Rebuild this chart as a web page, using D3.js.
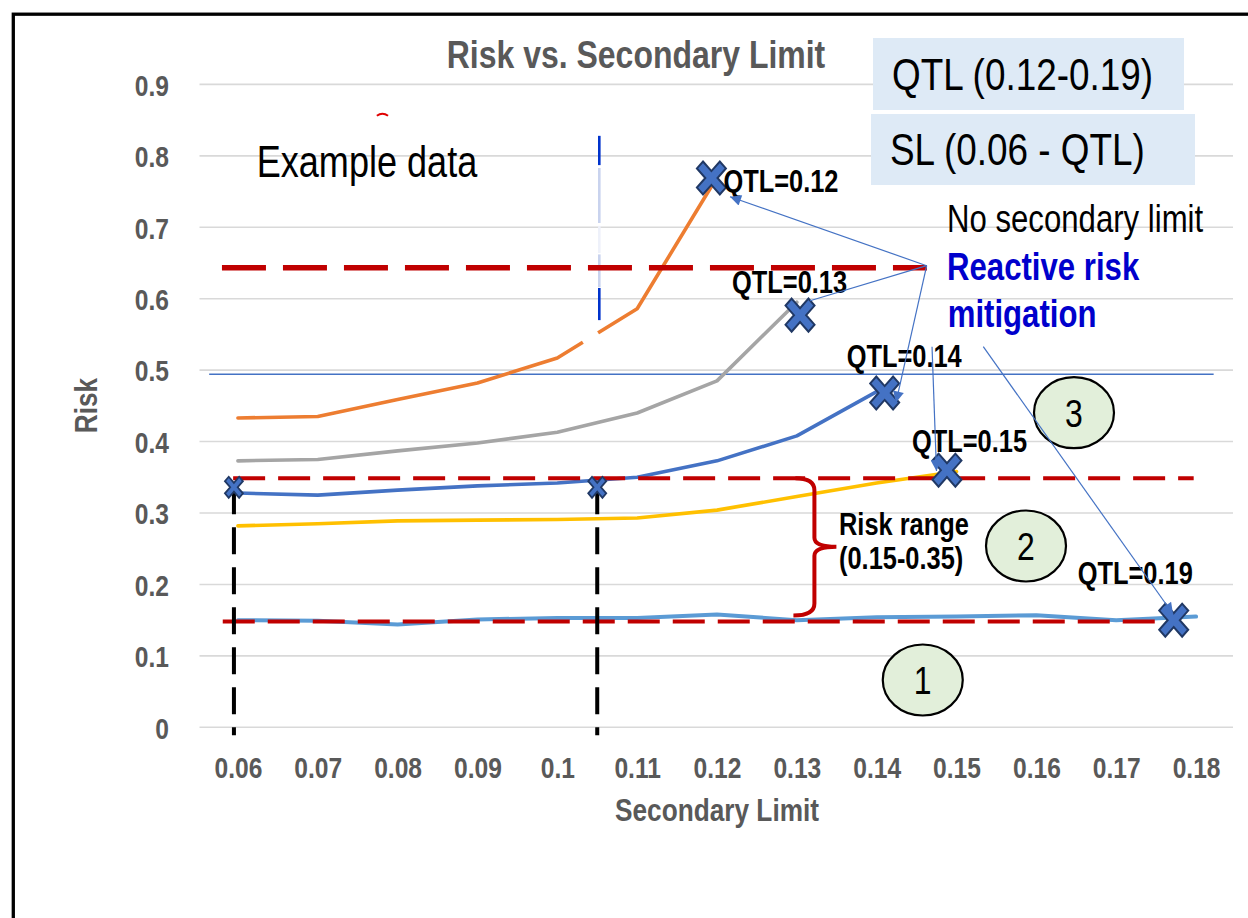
<!DOCTYPE html>
<html><head><meta charset="utf-8">
<script src="https://cdn.jsdelivr.net/npm/d3@7"></script>
<style>
html,body{margin:0;padding:0;background:#fff;}
svg{display:block;}
</style></head><body>
<svg id="chart" width="1248" height="918"></svg>
<script>
// ---------- data ----------
const categories = ["0.06","0.07","0.08","0.09","0.1","0.11","0.12","0.13","0.14","0.15","0.16","0.17","0.18"];
const seriesQTL012 = [0.433,0.435,0.459,0.482,0.517,0.586,0.770];
const seriesQTL013 = [0.373,0.375,0.387,0.398,0.413,0.440,0.485,0.595];
const seriesQTL014 = [0.328,0.325,0.332,0.338,0.342,0.350,0.373,0.408,0.470];
const seriesQTL015 = [0.282,0.285,0.289,0.290,0.291,0.293,0.304,0.323,0.342,0.358];
const seriesQTL019 = [0.150,0.149,0.144,0.151,0.153,0.153,0.158,0.150,0.154,0.155,0.157,0.150,0.155];
const seriesColors = ["#ED7D31","#A5A5A5","#4472C4","#FFC000","#5B9BD5"];
const yTickValues = [0,0.1,0.2,0.3,0.4,0.5,0.6,0.7,0.8,0.9];
const yTickLabels = ["0","0.1","0.2","0.3","0.4","0.5","0.6","0.7","0.8","0.9"];

// QTL end markers (secondary limit position, risk)
const qtlMarkerX = [0.1193,0.1304,0.1410,0.1488,0.1772];
const qtlMarkerY = [0.769,0.577,0.468,0.360,0.150];
const qtlLabels  = ["QTL=0.12","QTL=0.13","QTL=0.14","QTL=0.15","QTL=0.19"];
// secondary limit markers
const slMarkerX = [0.0595,0.1050];
const slMarkerY = [0.336,0.336];
// red dashed risk levels
const riskLevels    = [0.6434,0.3486,0.148];
const riskLevelFrom = [0.0580,0.0594,0.0581];
const riskLevelTo   = [0.1463,0.1797,0.1759];
// thin blue reference line
const refLevel = 0.4943, refFrom = 0.0564, refTo = 0.1822;
// numbered circles
const circleLabels = ["1","2","3"];
const circleX = [0.14577,0.15870,0.16471];
const circleY = [0.0662,0.2538,0.4404];
// arrows
const arrowFromX = [0.14626,0.14626,0.14626,0.14693,0.15335];
const arrowFromY = [0.6462,0.6462,0.6462,0.5328,0.5328];
const arrowToX   = [0.12163,0.13165,0.14242,0.14749,0.17711];
const arrowToY   = [0.7428,0.5972,0.4547,0.3588,0.1586];
const arrowHead  = [true,false,true,true,true];

// ---------- layout ----------
const svg = d3.select("#chart");
const FONT = "'Liberation Sans', Arial, sans-serif";
const x = d3.scalePoint().domain(categories).range([198,1236]).padding(0.5);
const y = d3.scaleLinear().domain([0,0.9]).range([727.3,84.4]);
const xLin = d3.scaleLinear().domain([0.06,0.18]).range([x("0.06"), x("0.18")]);

function txt(xp, yp, s, size, weight, fill, anchor, extra) {
  return svg.append("text")
    .attr("transform", `translate(${xp},${yp}) ${extra||""} scale(0.82,1)`)
    .attr("font-family", FONT).attr("font-size", size)
    .attr("font-weight", weight||"normal").attr("fill", fill||"#000")
    .attr("text-anchor", anchor||"start").text(s);
}

// outer frame
svg.append("rect").attr("x",13.3).attr("y",14.2).attr("width",1400).attr("height",1000)
  .attr("fill","none").attr("stroke","#000").attr("stroke-width",3.3);

// gridlines
svg.append("g").selectAll("line").data(yTickValues).join("line")
  .attr("x1",199.5).attr("x2",1233).attr("y1",d=>y(d)).attr("y2",d=>y(d))
  .attr("stroke","#D9D9D9").attr("stroke-width",1.6);

// axes
const gy = svg.append("g").attr("transform","translate(169,0)")
  .call(d3.axisLeft(y).tickValues(yTickValues).tickFormat((d,i)=>yTickLabels[i]).tickSize(0).tickPadding(0));
gy.select(".domain").remove();
gy.selectAll("text").attr("x",0).attr("dy","0.36em").attr("transform","scale(0.82,1)")
  .attr("font-family",FONT).attr("font-size",30).attr("font-weight","bold").attr("fill","#595959");

const gx = svg.append("g").attr("transform","translate(0,778)")
  .call(d3.axisBottom(x).tickSize(0).tickPadding(0));
gx.select(".domain").remove();
gx.selectAll("text").attr("y",0).attr("dy",0).attr("transform","scale(0.82,1)")
  .attr("font-family",FONT).attr("font-size",30).attr("font-weight","bold").attr("fill","#595959");

// title & axis titles
txt(636, 68, "Risk vs. Secondary Limit", 39, "bold", "#595959", "middle");
txt(717, 821, "Secondary Limit", 32, "bold", "#595959", "middle");
txt(97, 405.5, "Risk", 32, "bold", "#595959", "middle", "rotate(-90)");

// thin blue reference line
svg.append("line").attr("x1",xLin(refFrom)).attr("x2",xLin(refTo))
  .attr("y1",y(refLevel)).attr("y2",y(refLevel)).attr("stroke","#4472C4").attr("stroke-width",1.5);

// data lines
const allSeries = [seriesQTL012,seriesQTL013,seriesQTL014,seriesQTL015,seriesQTL019];
const line = d3.line().x((d,i)=>x(categories[i])).y(d=>y(d));
svg.append("g").selectAll("path").data(allSeries).join("path")
  .attr("d", d=>line(d)).attr("fill","none")
  .attr("stroke",(d,i)=>seriesColors[i]).attr("stroke-width",(d,i)=>i===4?4:3.6)
  .attr("stroke-linejoin","round").attr("stroke-linecap","round");

// white gap over orange line
{
  const a = 0.1032, b = 0.1051;
  const t = v => (v-0.10)/0.01;
  const yi = d3.interpolate(seriesQTL012[4], seriesQTL012[5]);
  svg.append("line").attr("x1",xLin(a)).attr("x2",xLin(b))
    .attr("y1",y(yi(t(a)))).attr("y2",y(yi(t(b)))).attr("stroke","#fff").attr("stroke-width",7);
}

// blue dashed vertical (faded)
{
  const bx = xLin(0.10526);
  const segs = [[0.828,0.787,"#0033CC",2.6],[0.783,0.706,"#C9D3EE",2.6],[0.702,0.664,"#EEF1FA",2.6],[0.662,0.616,"#C9D3EE",2.6],[0.615,0.570,"#0033CC",2.6]];
  svg.append("g").selectAll("line").data(segs).join("line")
    .attr("x1",bx).attr("x2",bx).attr("y1",d=>y(d[0])).attr("y2",d=>y(d[1]))
    .attr("stroke",d=>d[2]).attr("stroke-width",d=>d[3]);
}
// tiny red mark
svg.append("path").attr("d",`M${xLin(0.0774)},${y(0.856)} Q${xLin(0.0781)},${y(0.862)} ${xLin(0.0788)},${y(0.856)}`)
  .attr("fill","none").attr("stroke","#E00000").attr("stroke-width",2);

// red dashed risk levels
svg.append("g").selectAll("line").data(riskLevels).join("line")
  .attr("x1",(d,i)=>xLin(riskLevelFrom[i])).attr("x2",(d,i)=>xLin(riskLevelTo[i]))
  .attr("y1",d=>y(d)).attr("y2",d=>y(d))
  .attr("stroke","#C00000").attr("stroke-width",(d,i)=>i===0?5.5:4)
  .attr("stroke-dasharray",(d,i)=>i===0?"44,17":"32,13");

// black dashed verticals at secondary limits
svg.append("g").selectAll("line").data(slMarkerX).join("line")
  .attr("x1",d=>xLin(d)).attr("x2",d=>xLin(d))
  .attr("y1",(d,i)=>y(slMarkerY[i])).attr("y2",y(-0.011))
  .attr("stroke","#000").attr("stroke-width",4).attr("stroke-dasharray","27,13");

// red brace
{
  const bx = xLin(0.1322), top = y(0.3486), bot = y(0.1565), mid = y(0.2527);
  const d = `M${bx-19},${top} Q${bx},${top} ${bx},${top+12} L${bx},${mid-9} Q${bx},${mid} ${bx+22},${mid} Q${bx},${mid} ${bx},${mid+9} L${bx},${bot-12} Q${bx},${bot} ${bx-21},${bot}`;
  svg.append("path").attr("d",d).attr("fill","none").attr("stroke","#C00000").attr("stroke-width",4);
}

// numbered circles
const cg = svg.append("g").selectAll("g").data(circleLabels).join("g")
  .attr("transform",(d,i)=>`translate(${xLin(circleX[i])},${y(circleY[i])})`);
cg.append("ellipse").attr("rx",40).attr("ry",35.5).attr("fill","#E2EFDA").attr("stroke","#000").attr("stroke-width",2.2);
cg.append("text").attr("y",14).attr("text-anchor","middle").attr("transform","scale(0.82,1)")
  .attr("font-family",FONT).attr("font-size",39).attr("fill","#000").text(d=>d);

// X markers
function xPath(w,h,k){
  const sx=w/2, sy=h/2;
  const pts=[[-1+k,-1],[0,-k],[1-k,-1],[1,-1+k],[k,0],[1,1-k],[1-k,1],[0,k],[-1+k,1],[-1,1-k],[-k,0],[-1,-1+k]];
  return "M"+pts.map(p=>(p[0]*sx).toFixed(2)+","+(p[1]*sy).toFixed(2)).join("L")+"Z";
}
svg.append("g").selectAll("path").data(qtlMarkerX).join("path")
  .attr("transform",(d,i)=>`translate(${xLin(d)},${y(qtlMarkerY[i])})`)
  .attr("d",xPath(29,33,0.42)).attr("fill","#4472C4").attr("stroke","#203864").attr("stroke-width",2);
svg.append("g").selectAll("path").data(slMarkerX).join("path")
  .attr("transform",(d,i)=>`translate(${xLin(d)},${y(slMarkerY[i])})`)
  .attr("d",xPath(18,21,0.42)).attr("fill","#4472C4").attr("stroke","#203864").attr("stroke-width",1.8);

// QTL labels
const qtlLabelOffsets = [[12,14],[-68,-22],[-38,-26],[-35,-18],[-96,-36]];
qtlLabels.forEach((s,i)=>{
  txt(xLin(qtlMarkerX[i])+qtlLabelOffsets[i][0], y(qtlMarkerY[i])+qtlLabelOffsets[i][1], s, 31, "bold", "#000");
});

// annotation texts
txt(256.7,176.7,"Example data",44,"normal","#000");
svg.append("rect").attr("x",873).attr("y",38).attr("width",311).attr("height",72).attr("fill","#DEEAF6");
svg.append("rect").attr("x",871).attr("y",114).attr("width",324).attr("height",71).attr("fill","#DEEAF6");
txt(892,90,"QTL (0.12-0.19)",45,"normal","#000");
txt(890,165,"SL (0.06 - QTL)",45,"normal","#000");
txt(947,231.7,"No secondary limit",38,"normal","#000");
txt(947,280,"Reactive risk",38,"bold","#0000CC");
txt(947.7,326.7,"mitigation",38,"bold","#0000CC");
txt(839,535,"Risk range",31,"bold","#000");
txt(839,569,"(0.15-0.35)",31,"bold","#000");

// arrows
const defs = svg.append("defs");
defs.append("marker").attr("id","ah").attr("viewBox","0 0 10 10").attr("refX",10).attr("refY",5)
  .attr("markerWidth",14).attr("markerHeight",11).attr("markerUnits","userSpaceOnUse").attr("orient","auto")
  .append("path").attr("d","M0,0L10,5L0,10Z").attr("fill","#4472C4");
svg.append("g").selectAll("line").data(arrowFromX).join("line")
  .attr("x1",d=>xLin(d)).attr("y1",(d,i)=>y(arrowFromY[i]))
  .attr("x2",(d,i)=>xLin(arrowToX[i])).attr("y2",(d,i)=>y(arrowToY[i]))
  .attr("stroke","#4472C4").attr("stroke-width",1.2)
  .attr("marker-end",(d,i)=>arrowHead[i]?"url(#ah)":null);
</script>
</body></html>
